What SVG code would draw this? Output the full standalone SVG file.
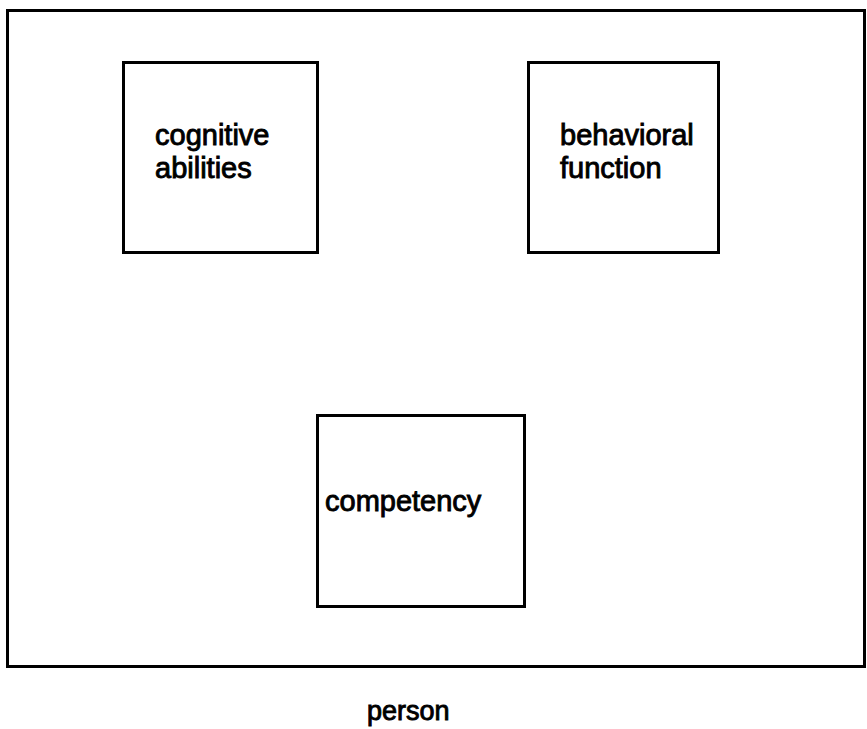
<svg xmlns="http://www.w3.org/2000/svg" width="867" height="729" viewBox="0 0 867 729">
  <style>
    .frame { fill: none; stroke: #000; stroke-width: 3; }
    .box { fill: #fff; stroke: #000; stroke-width: 3; }
    .label { font-family: "Liberation Sans", Arial, sans-serif; font-size: 29px; fill: #000; stroke: #000; stroke-width: 0.9; }
    .caption { font-family: "Liberation Sans", Arial, sans-serif; font-size: 27px; fill: #000; stroke: #000; stroke-width: 0.9; }
  </style>
  <rect width="867" height="729" fill="#fff"/>

  <!-- enclosing boundary of the person -->
  <g id="person">
    <rect class="frame" x="7.5" y="10.5" width="857" height="656"/>
    <text class="caption" x="367" y="720">person</text>
  </g>

  <g id="cognitive-abilities">
    <rect class="box" x="123.5" y="62.5" width="194" height="190"/>
    <text class="label" x="155" y="145">cognitive</text>
    <text class="label" x="155" y="178">abilities</text>
  </g>

  <g id="behavioral-function">
    <rect class="box" x="528.5" y="62.5" width="190" height="190"/>
    <text class="label" x="560" y="145">behavioral</text>
    <text class="label" x="560" y="178">function</text>
  </g>

  <g id="competency">
    <rect class="box" x="317.5" y="415.5" width="207" height="191"/>
    <text class="label" x="325" y="511">competency</text>
  </g>

  <g id="connectors"></g>
</svg>
